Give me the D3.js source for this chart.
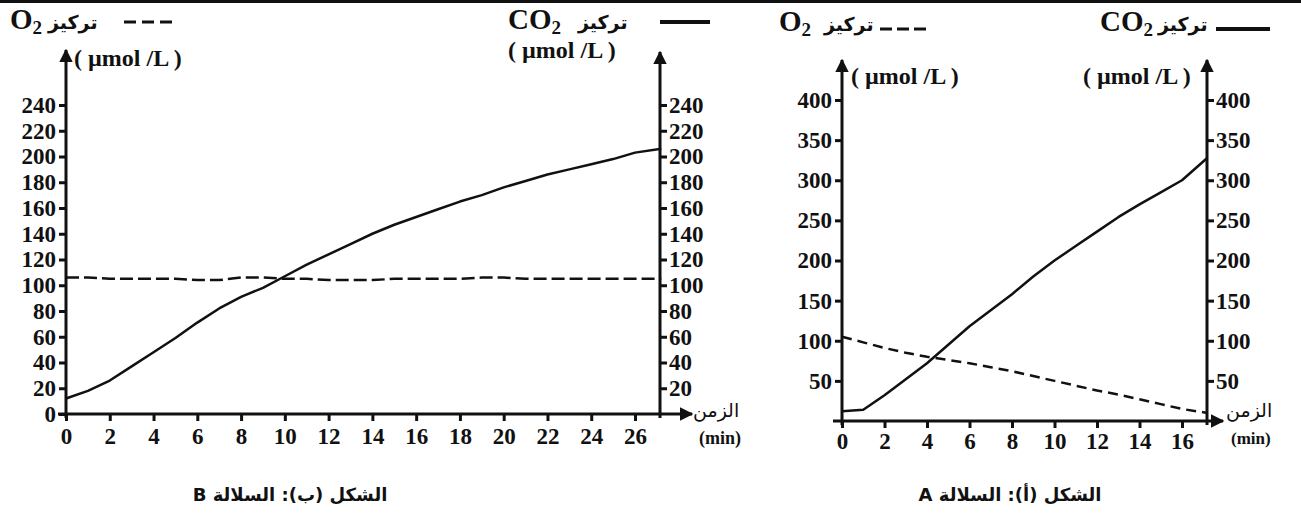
<!DOCTYPE html>
<html><head><meta charset="utf-8">
<script src="https://cdn.jsdelivr.net/npm/d3@7"></script>
</head>
<body style="margin:0;background:#fff">
<svg id="c" width="1301" height="514" style="display:block"></svg>
<script>
// ---- Data: strain B (left figure) ----
const timeB = [0,1,2,3,4,5,6,7,8,9,10,11,12,13,14,15,16,17,18,19,20,21,22,23,24,25,26,27.2];
const co2B  = [12,18,26,37,48,59,71,82,91,98,107,116,124,132,140,147,153,159,165,170,176,181,186,190,194,198,203,206];
const o2B   = [106,106,105,105,105,105,104,104,106,106,105,105,104,104,104,105,105,105,105,106,106,105,105,105,105,105,105,105];
// ---- Data: strain A (right figure) ----
const timeA = [0,1,2,3,4,5,6,7,8,9,10,11,12,13,14,15,16,17.2];
const co2A  = [12,14,32,52,72,95,118,138,158,180,200,218,236,254,270,285,300,328];
const o2A   = [105,98,91,85,80,76,72,67,62,56,50,44,38,33,27,21,15,10];
// ---- Tick labels ----
const ticksXB = [0,2,4,6,8,10,12,14,16,18,20,22,24,26];
const ticksYBL = [0,20,40,60,80,100,120,140,160,180,200,220,240];
const ticksYBR = [20,40,60,80,100,120,140,160,180,200,220,240];
const ticksXA = [0,2,4,6,8,10,12,14,16];
const ticksYA = [50,100,150,200,250,300,350,400];

const SERIF = "Liberation Serif, Times New Roman, DejaVu Serif, serif";
const ARAB = "DejaVu Sans, Noto Sans, sans-serif";
const INK = "#111";

const svg = d3.select("#c");
const defs = svg.append("defs");
defs.append("marker").attr("id","arr").attr("viewBox","0 0 10 10").attr("refX",9).attr("refY",5)
  .attr("markerWidth",4.5).attr("markerHeight",4.5).attr("markerUnits","strokeWidth").attr("orient","auto")
  .append("path").attr("d","M0,0 L10,5 L0,10 z").attr("fill",INK);

// top border
svg.append("line").attr("x1",0).attr("x2",1301).attr("y1",1.5).attr("y2",1.5).attr("stroke",INK).attr("stroke-width",3);

function styleAxis(g){
  g.attr("font-family",SERIF).attr("font-size",23).attr("font-weight","bold");
  g.select(".domain").remove();
  g.selectAll(".tick line").attr("stroke",INK).attr("stroke-width",3);
  g.selectAll(".tick text").attr("fill",INK).attr("font-family",SERIF).attr("font-weight","bold").attr("font-size",23);
}
function axisLine(x1,y1,x2,y2){
  svg.append("line").attr("x1",x1).attr("y1",y1).attr("x2",x2).attr("y2",y2)
    .attr("stroke",INK).attr("stroke-width",3).attr("marker-end","url(#arr)");
}
function lineOf(xs,ys,xS,yS,dash,w){
  const data = xs.map((t,i)=>[t,ys[i]]);
  const p = svg.append("path").datum(data).attr("fill","none").attr("stroke",INK).attr("stroke-width",w)
    .attr("stroke-linejoin","round")
    .attr("d", d3.line().x(d=>xS(d[0])).y(d=>yS(d[1])));
  if(dash) p.attr("stroke-dasharray",dash);
}
function txt(x,y,s,fam,size,weight){
  return svg.append("text").attr("x",x).attr("y",y).attr("font-family",fam).attr("font-size",size)
    .attr("font-weight",weight||"bold").attr("fill",INK).text(s);
}
function header(xO, xT, y, sub){
  const t = svg.append("text").attr("x",xO).attr("y",y).attr("font-family",SERIF)
    .attr("font-weight","bold").attr("font-size",29).attr("fill",INK);
  t.append("tspan").text(sub);
  t.append("tspan").attr("font-size",19).attr("dy",5).text("2");
  txt(xT,y,"تركيز",ARAB,19,"bold");
}

// ================= Figure B (left) =================
const xB = d3.scaleLinear().domain([0,26]).range([66,635]);
const yB = d3.scaleLinear().domain([0,240]).range([414,105]);
const xRB = 660;

svg.append("g").attr("transform","translate(66,0)")
  .call(d3.axisLeft(yB).tickValues(ticksYBL).tickSize(7).tickPadding(3).tickFormat(d3.format("d"))).call(styleAxis);
svg.append("g").attr("transform",`translate(${xRB},0)`)
  .call(d3.axisRight(yB).tickValues(ticksYBR).tickSize(7).tickPadding(2).tickFormat(d3.format("d"))).call(styleAxis);
svg.append("g").attr("transform",`translate(0,${yB(0)})`)
  .call(d3.axisBottom(xB).tickValues(ticksXB).tickSize(7).tickPadding(7).tickFormat(d3.format("d"))).call(styleAxis);

axisLine(66,418,66,50);
axisLine(xRB,418,xRB,52);
axisLine(58,yB(0),692,yB(0));

lineOf(timeB,o2B,xB,yB,"13,5",2.5);
lineOf(timeB,co2B,xB,yB,null,2.5);

header(10,48,29,"O");
svg.append("line").attr("x1",124).attr("x2",174).attr("y1",22).attr("y2",22).attr("stroke",INK).attr("stroke-width",3).attr("stroke-dasharray","12,6");
txt(74,66,"( µmol /L )",SERIF,24);
header(508,578,29,"CO");
svg.append("line").attr("x1",660).attr("x2",710).attr("y1",22).attr("y2",22).attr("stroke",INK).attr("stroke-width",4);
txt(508,58,"( µmol /L )",SERIF,24);

txt(693,417,"الزمن",ARAB,19,"normal");
txt(699,444,"(min)",SERIF,18);

txt(290,501,"الشكل (ب): السلالة B",ARAB,18).attr("text-anchor","middle").attr("direction","rtl");

// ================= Figure A (right) =================
const xA = d3.scaleLinear().domain([0,16]).range([842,1182]);
const yA = d3.scaleLinear().domain([0,400]).range([421,100]);
const xRA = 1207;

svg.append("g").attr("transform","translate(842,0)")
  .call(d3.axisLeft(yA).tickValues(ticksYA).tickSize(7).tickPadding(3).tickFormat(d3.format("d"))).call(styleAxis);
svg.append("g").attr("transform",`translate(${xRA},0)`)
  .call(d3.axisRight(yA).tickValues(ticksYA).tickSize(7).tickPadding(2).tickFormat(d3.format("d"))).call(styleAxis);
svg.append("g").attr("transform",`translate(0,${yA(0)})`)
  .call(d3.axisBottom(xA).tickValues(ticksXA).tickSize(7).tickPadding(5).tickFormat(d3.format("d"))).call(styleAxis);

axisLine(842,425,842,60);
axisLine(xRA,425,xRA,60);
axisLine(833,yA(0),1223,yA(0));

lineOf(timeA,o2A,xA,yA,"10,6",2.5);
lineOf(timeA,co2A,xA,yA,null,2.5);

header(779,824,31,"O");
svg.append("line").attr("x1",880).attr("x2",930).attr("y1",29).attr("y2",29).attr("stroke",INK).attr("stroke-width",3).attr("stroke-dasharray","12,5");
txt(851,84,"( µmol /L )",SERIF,24);
header(1100,1158,31,"CO");
svg.append("line").attr("x1",1216).attr("x2",1270).attr("y1",29).attr("y2",29).attr("stroke",INK).attr("stroke-width",4);
txt(1083,84,"( µmol /L )",SERIF,24);

txt(1226,417,"الزمن",ARAB,19,"normal");
txt(1231,444,"(min)",SERIF,17);

txt(1010,501,"الشكل (أ): السلالة A",ARAB,18).attr("text-anchor","middle").attr("direction","rtl");
</script></body></html>
